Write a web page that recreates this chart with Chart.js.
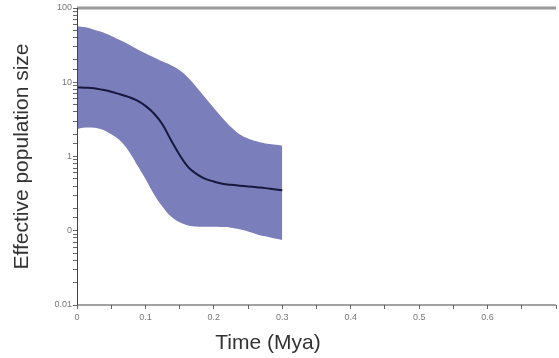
<!DOCTYPE html>
<html>
<head>
<meta charset="utf-8">
<script src="https://cdn.jsdelivr.net/npm/chart.js@4"></script>
<style>
  html, body { margin: 0; padding: 0; background: #fff; }
  #wrap { width: 559px; height: 358px; position: relative; }
</style>
</head>
<body>
<div id="wrap"><canvas id="skyline"></canvas></div>
<script>
// time points (Mya)
const times = [0, 0.0125, 0.025, 0.0375, 0.05, 0.0625, 0.075, 0.0875, 0.1, 0.1125, 0.125, 0.1375,
    0.15, 0.1625, 0.175, 0.1875, 0.2, 0.2125, 0.225, 0.2375, 0.25, 0.2625, 0.275, 0.2875, 0.3];
// median effective population size
const median = [8.5, 8.45, 8.3, 7.9, 7.45, 6.9, 6.35, 5.7, 4.8, 3.8, 2.7, 1.65,
    1.05, 0.72, 0.58, 0.5, 0.46, 0.43, 0.415, 0.405, 0.395, 0.385, 0.375, 0.362, 0.35];
// 95% HPD upper and lower
const upper = [57, 55, 51, 47, 42, 37, 32.5, 28, 24.5, 21.5, 19, 17,
    14.5, 11.5, 8.5, 6.2, 4.5, 3.3, 2.5, 2.0, 1.75, 1.6, 1.5, 1.45, 1.4];
const lower = [2.35, 2.45, 2.44, 2.3, 2.0, 1.65, 1.2, 0.78, 0.5, 0.31, 0.21, 0.155,
    0.13, 0.118, 0.114, 0.113, 0.113, 0.112, 0.11, 0.105, 0.098, 0.09, 0.084, 0.079, 0.075];

// axis labels as printed in the figure
const xTickLabels = ["0", "0.1", "0.2", "0.3", "0.4", "0.5", "0.6"];
const yTickValues = [0.01, 0.1, 1, 10, 100];
const yTickLabels = ["0.01", "0", "1", "10", "100"];

const pts = arr => arr.map((v, i) => ({ x: times[i], y: v }));

// frame lines + x title drawn by hand
const framePlugin = {
    id: "frame",
    afterDraw(chart) {
        const { ctx, chartArea: a } = chart;
        ctx.save();
        ctx.strokeStyle = "#9a9a9a";
        ctx.lineWidth = 3;
        ctx.beginPath();
        ctx.moveTo(a.left, a.top);
        ctx.lineTo(a.right, a.top);
        ctx.stroke();
        ctx.strokeStyle = "#444";
        ctx.lineWidth = 1;
        ctx.beginPath();
        ctx.moveTo(a.left + 0.5, a.top);
        ctx.lineTo(a.left + 0.5, a.bottom);
        ctx.lineTo(a.right, a.bottom);
        ctx.stroke();
        ctx.fillStyle = "#333";
        ctx.font = "21px 'Liberation Sans', Arial, sans-serif";
        ctx.textAlign = "center";
        ctx.textBaseline = "middle";
        ctx.fillText("Time (Mya)", 268, 343);
        ctx.restore();
    }
};

new Chart(document.querySelector("#skyline"), {
    type: "line",
    data: {
        datasets: [
            {
                data: pts(upper),
                order: 2,
                fill: "+1",
                backgroundColor: "rgb(122,126,186)",
                borderWidth: 0,
                pointRadius: 0,
                tension: 0.4
            },
            {
                data: pts(lower),
                order: 3,
                fill: false,
                borderWidth: 0,
                pointRadius: 0,
                tension: 0.4
            },
            {
                data: pts(median),
                order: 0,
                fill: false,
                borderColor: "#16183c",
                borderWidth: 2,
                pointRadius: 0,
                tension: 0.4
            }
        ]
    },
    options: {
        responsive: true,
        maintainAspectRatio: false,
        animation: false,
        layout: { padding: { top: 8, right: 0, left: 0, bottom: 0 } },
        plugins: {
            legend: { display: false },
            tooltip: { enabled: false }
        },
        scales: {
            x: {
                type: "linear",
                min: 0,
                max: 0.7,
                afterFit(scale) { scale.height = 53; },
                border: { display: false },
                grid: { drawOnChartArea: false, tickLength: 4, color: "#666" },
                ticks: {
                    stepSize: 0.05,
                    autoSkip: false,
                    maxRotation: 0,
                    padding: 3,
                    color: "#777",
                    font: { size: 9, family: "'Liberation Sans', Arial, sans-serif" },
                    callback(v) {
                        const k = Math.round(v * 10);
                        if (Math.abs(v * 10 - k) > 1e-6) return "";
                        return xTickLabels[k] !== undefined ? xTickLabels[k] : "";
                    }
                }
            },
            y: {
                type: "logarithmic",
                min: 0.01,
                max: 100,
                afterFit(scale) { scale.width = 77; },
                border: { display: false },
                grid: { drawOnChartArea: false, tickLength: 4, color: "#666" },
                title: {
                    display: true,
                    text: "Effective population size",
                    color: "#333",
                    padding: { top: 10, bottom: 0 },
                    font: { size: 21, family: "'Liberation Sans', Arial, sans-serif" }
                },
                ticks: {
                    autoSkip: false,
                    padding: 1,
                    color: "#777",
                    font: { size: 9, family: "'Liberation Sans', Arial, sans-serif" },
                    callback(v) {
                        const i = yTickValues.findIndex(t => Math.abs(t - v) / t < 1e-6);
                        return i >= 0 ? yTickLabels[i] : "";
                    }
                }
            }
        }
    },
    plugins: [framePlugin]
});
</script>
</body>
</html>
